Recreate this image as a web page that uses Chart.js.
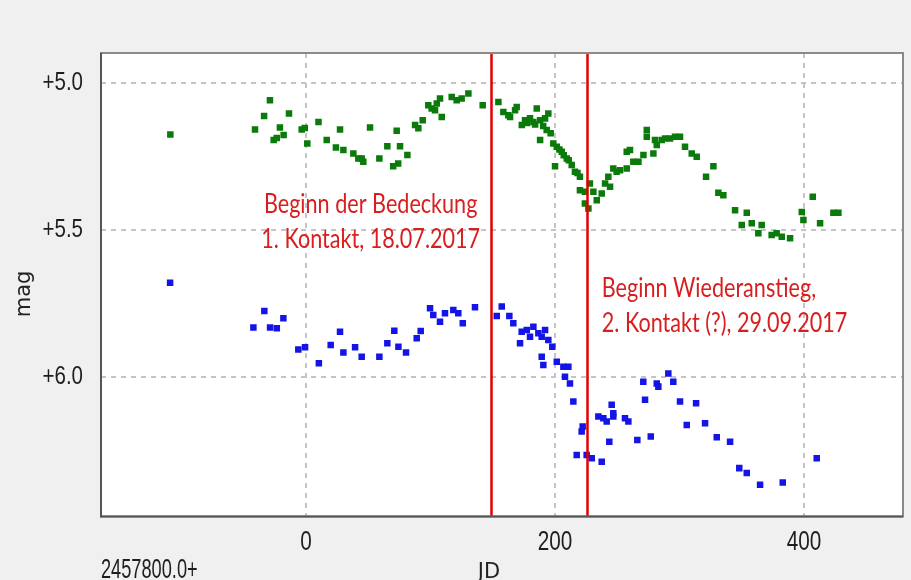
<!DOCTYPE html>
<html>
<head>
<meta charset="utf-8">
<title>Lichtkurve</title>
<script src="https://cdn.jsdelivr.net/npm/chart.js@4.4.0/dist/chart.umd.min.js"></script>
<style>
  body { margin: 0; background: #f0f0f0; }
  #wrap { width: 911px; height: 580px; }
</style>
</head>
<body>
<div id="wrap"><canvas id="lc" width="911" height="580"></canvas></div>
<script>
// JD - 2457800, upper (green) series
const greenJD = [-109, -41, -33.7, -29, -26, -23.5, -21, -18, -13.7, -3.5, -1, 1, 10, 16.6, 24, 27.3, 30, 38, 42, 44.7,
  46, 51.4, 58.9, 65.3, 70, 72.8, 74, 75.5, 81.4, 87.6, 90.2, 93.7, 98.2, 100.9, 103.6, 105, 107.6, 109, 117, 121,
  125, 130.4, 141.9, 154.5, 158.5, 162.5, 163.9, 167.9, 169.2, 173.3, 175.9, 177.5, 179.9, 182.6, 184, 185.3, 188, 188, 190.5, 192,
  193.3, 194.6, 196.5, 198.6, 200, 201.4, 203.5, 205.4, 207, 209.4, 211, 213.4, 216, 218, 220, 220, 224, 224, 226.8, 228,
  230.8, 233.5, 237.5, 240.2, 242.8, 244.2, 246.8, 249.5, 252.2, 257.6, 257.6, 260.2, 262.9, 267, 271, 273.7, 273.7, 279, 280.3, 281.7,
  285.7, 288.4, 292.4, 296.4, 300.4, 304.4, 309.8, 313.8, 321.3, 327.2, 331.2, 335.2, 344.6, 350, 354, 358, 363.3, 366, 374, 378,
  382.1, 388.8, 398.2, 399.5, 407, 412.9, 423.6, 427.6];
const greenMag = [5.174, 5.157, 5.111, 5.057, 5.193, 5.186, 5.150, 5.176, 5.102, 5.157, 5.152, 5.205, 5.131, 5.193, 5.218, 5.157, 5.227, 5.239, 5.256, 5.256,
  5.267, 5.150, 5.256, 5.214, 5.282, 5.161, 5.273, 5.214, 5.244, 5.142, 5.153, 5.125, 5.074, 5.085, 5.091, 5.068, 5.051, 5.114, 5.046, 5.057,
  5.051, 5.034, 5.074, 5.063, 5.097, 5.108, 5.114, 5.091, 5.080, 5.142, 5.125, 5.135, 5.119, 5.131, 5.140, 5.085, 5.125, 5.193, 5.145, 5.119,
  5.159, 5.102, 5.170, 5.205, 5.282, 5.216, 5.225, 5.233, 5.245, 5.256, 5.262, 5.278, 5.301, 5.305, 5.318, 5.364, 5.369, 5.409, 5.426, 5.341,
  5.369, 5.398, 5.375, 5.341, 5.318, 5.352, 5.290, 5.301, 5.296, 5.290, 5.233, 5.227, 5.267, 5.267, 5.244, 5.159, 5.182, 5.239, 5.193, 5.210,
  5.193, 5.188, 5.188, 5.182, 5.182, 5.216, 5.239, 5.250, 5.318, 5.282, 5.373, 5.381, 5.432, 5.483, 5.441, 5.477, 5.511, 5.483, 5.517, 5.511,
  5.523, 5.528, 5.438, 5.466, 5.386, 5.477, 5.441, 5.441];

// JD - 2457800, lower (blue) series
const blueJD = [-109.2, -42.3, -33.5, -28.9, -23.5, -18.2, -6.2, -0.8, 10.3, 19.8, 27.3, 30, 39.4, 44.7, 58.9, 65.3, 70.9, 74.2, 80.3, 88.9,
  92.1, 99.6, 102.2, 107.6, 111.6, 118.3, 122.3, 125.9, 135.7, 153.2, 157.2, 163.3, 166.5, 171.9, 173.2, 177.3, 179.9, 182.6, 186.6, 189.3,
  189.3, 190.6, 192, 194.6, 197.8, 201.4, 206.7, 208, 210.7, 212, 214.7, 217.4, 221.4, 222.2, 225.4, 229.5, 234.8, 237.5, 238.8, 241.5,
  243.6, 245.5, 246.8, 246.8, 256.2, 258.9, 266.1, 270.9, 272.3, 276.9, 281.7, 283, 291, 295, 300.4, 305.8, 313.3, 320.5, 329.9, 340.6,
  348, 354, 364.7, 382.9, 410.2];
const blueMag = [5.680, 5.832, 5.776, 5.832, 5.835, 5.801, 5.907, 5.900, 5.954, 5.892, 5.847, 5.918, 5.900, 5.932, 5.932, 5.886, 5.843, 5.898, 5.918, 5.869,
  5.844, 5.767, 5.790, 5.813, 5.784, 5.773, 5.784, 5.818, 5.763, 5.793, 5.761, 5.793, 5.818, 5.886, 5.847, 5.841, 5.864, 5.830, 5.852, 5.864,
  5.932, 5.960, 5.841, 5.875, 5.898, 5.949, 5.966, 6.000, 5.966, 6.023, 6.085, 6.267, 6.187, 6.170, 6.267, 6.278, 6.136, 6.290, 6.142, 6.153,
  6.222, 6.096, 6.125, 6.136, 6.142, 6.153, 6.216, 6.017, 6.079, 6.204, 6.023, 6.034, 5.989, 6.017, 6.085, 6.165, 6.091, 6.159, 6.207, 6.222,
  6.312, 6.329, 6.369, 6.361, 6.278];

const xTicks = [0, 200, 400];
const yTicks = [5.0, 5.5, 6.0];

// event markers (JD - 2457800) and their labels
const eventJD = [148.3, 225.5];
const eventText = [
  ['Beginn der Bedeckung', '1. Kontakt, 18.07.2017'],
  ['Beginn Wiederanstieg,', '2. Kontakt (?), 29.09.2017']
];

// squeezed text, the original picture is narrower than it is tall
function narrowText(ctx, text, x, y, sx, align) {
  ctx.save();
  ctx.translate(x, y);
  ctx.scale(sx, 1);
  ctx.textAlign = align;
  ctx.fillText(text, 0, 0);
  ctx.restore();
}

const framePlugin = {
  id: 'frame',
  beforeDraw(chart) {
    const { ctx, chartArea: a } = chart;
    ctx.save();
    ctx.fillStyle = '#ffffff';
    ctx.fillRect(a.left, a.top, a.right - a.left, a.bottom - a.top);
    ctx.restore();
  },
  afterDatasetsDraw(chart) {
    const { ctx, chartArea: a, scales } = chart;
    ctx.save();
    // event lines
    ctx.strokeStyle = '#e00000';
    ctx.lineWidth = 2.5;
    eventJD.forEach(v => {
      const px = Math.round(scales.x.getPixelForValue(v)) + 0.5;
      ctx.beginPath();
      ctx.moveTo(px, a.top);
      ctx.lineTo(px, a.bottom);
      ctx.stroke();
    });
    // event labels
    ctx.fillStyle = '#d81e1e';
    ctx.font = '27px Lato, "Open Sans", sans-serif';
    ctx.textBaseline = 'alphabetic';
    const x1 = scales.x.getPixelForValue(eventJD[0]) - 120;
    const x2 = scales.x.getPixelForValue(eventJD[1]) + 15;
    narrowText(ctx, eventText[0][0], x1, 213, 0.8, 'center');
    narrowText(ctx, eventText[0][1], x1, 248, 0.8, 'center');
    narrowText(ctx, eventText[1][0], x2, 297, 0.8, 'left');
    narrowText(ctx, eventText[1][1], x2, 332, 0.8, 'left');
    ctx.restore();
  },
  afterDraw(chart) {
    const { ctx, chartArea: a, scales } = chart;
    ctx.save();
    // plot frame
    ctx.strokeStyle = '#8a8a8a';
    ctx.lineWidth = 2;
    ctx.strokeRect(a.left, a.top, a.right - a.left, a.bottom - a.top);
    ctx.strokeStyle = '#555555';
    ctx.beginPath();
    ctx.moveTo(a.left, a.top);
    ctx.lineTo(a.left, a.bottom);
    ctx.lineTo(a.right, a.bottom);
    ctx.stroke();

    // tick labels
    ctx.fillStyle = '#1e1e1e';
    ctx.font = "25px 'Liberation Sans', Arial, sans-serif";
    ctx.textBaseline = 'alphabetic';
    yTicks.forEach(v => {
      narrowText(ctx, '+' + v.toFixed(1), a.left - 18, scales.y.getPixelForValue(v) + 7, 0.82, 'right');
    });
    ctx.font = "28px 'Liberation Sans', Arial, sans-serif";
    xTicks.forEach(v => {
      narrowText(ctx, String(v), scales.x.getPixelForValue(v), 550, 0.74, 'center');
    });
    narrowText(ctx, '2457800.0+', a.left, 578, 0.65, 'left');

    // axis titles
    ctx.fillStyle = '#222222';
    ctx.font = '21px "DejaVu Sans", sans-serif';
    ctx.textAlign = 'center';
    ctx.save();
    ctx.translate(30, 294);
    ctx.rotate(-Math.PI / 2);
    ctx.fillText('mag', 0, 0);
    ctx.restore();
    ctx.fillText('JD', 489, 578);
    ctx.restore();
  }
};

const toPts = (xs, ys) => xs.map((x, i) => ({ x: x, y: ys[i] }));

new Chart(document.getElementById('lc'), {
  type: 'scatter',
  data: {
    datasets: [
      {
        label: 'V',
        data: toPts(greenJD, greenMag),
        backgroundColor: '#0a7a0a',
        borderColor: '#0a7a0a',
        pointStyle: 'rect',
        pointRadius: 4.6,
        borderWidth: 0
      },
      {
        label: 'B',
        data: toPts(blueJD, blueMag),
        backgroundColor: '#1414e6',
        borderColor: '#1414e6',
        pointStyle: 'rect',
        pointRadius: 4.6,
        borderWidth: 0
      }
    ]
  },
  options: {
    responsive: false,
    devicePixelRatio: 1,
    animation: false,
    layout: { padding: { left: 0, top: 53, right: 8, bottom: 0 } },
    plugins: { legend: { display: false }, tooltip: { enabled: false } },
    scales: {
      x: {
        type: 'linear',
        min: -164.7,
        max: 479.5,
        afterBuildTicks: s => { s.ticks = xTicks.map(v => ({ value: v })); },
        afterFit: s => { s.height = 63.5; },
        ticks: { display: false },
        grid: { color: '#c4c4c4', lineWidth: 2, drawTicks: false },
        border: { display: false, dash: [5, 5] }
      },
      y: {
        type: 'linear',
        reverse: true,
        min: 4.896,
        max: 6.477,
        afterBuildTicks: s => { s.ticks = yTicks.map(v => ({ value: v })); },
        afterFit: s => { s.width = 101; },
        ticks: { display: false },
        grid: { color: '#c4c4c4', lineWidth: 2, drawTicks: false },
        border: { display: false, dash: [5, 5] }
      }
    }
  },
  plugins: [framePlugin]
});
</script>
</body>
</html>
